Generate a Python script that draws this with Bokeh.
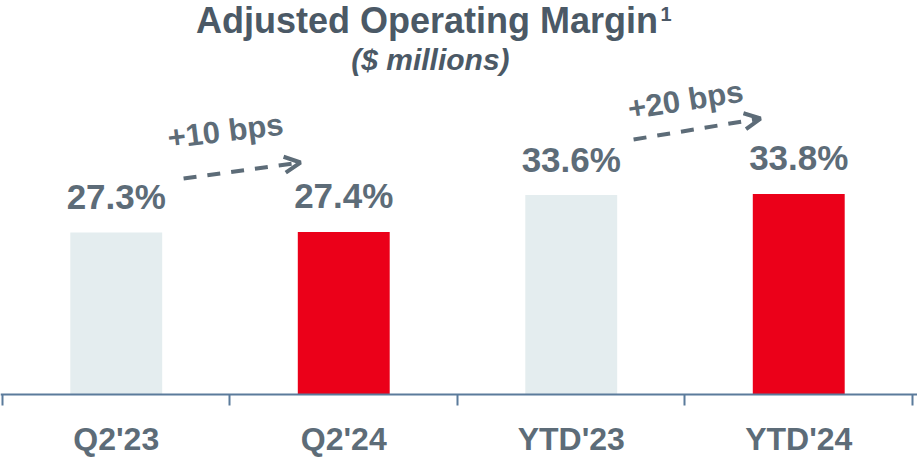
from bokeh.plotting import figure
from bokeh.models import (Range1d, LinearAxis, FixedTicker, Label, Arrow,
                          OpenHead, ColumnDataSource)
from bokeh.core.properties import value
from bokeh.embed import file_html
from bokeh.resources import INLINE

# ---- data ----
categories = ["Q2'23", "Q2'24", "YTD'23", "YTD'24"]
margins = [27.3, 27.4, 33.6, 33.8]
bar_colors = ["#e4edef", "#eb0019", "#e4edef", "#eb0019"]
change_labels = ["+10 bps", "+20 bps"]
change_pairs = [(0, 1), (2, 3)]

FONT = "Liberation Sans"
TEXT_C = "#5d6c78"
TITLE_C = "#4b5966"
AXIS_C = "#5b7b9b"
PX_PER_UNIT = 5.935


def lift(fs):
    # compensate for baseline placement of rendered text (in data units)
    return 0.37 * fs / PX_PER_UNIT


xs = [i + 0.5 for i in range(len(categories))]
src = ColumnDataSource(dict(
    x=xs, top=margins, color=bar_colors,
    label=[f"{m:.1f}%" for m in margins],
))

p = figure(width=917, height=458,
           x_range=Range1d(-0.00879, 4.02198), y_range=Range1d(-10.784, 66.386),
           output_backend="svg", toolbar_location=None,
           x_axis_location=None, y_axis_location=None,
           min_border=0, outline_line_color=None)
p.background_fill_color = "white"
p.border_fill_color = "white"
p.xgrid.visible = False
p.ygrid.visible = False

p.vbar(x="x", top="top", bottom=0, width=0.404, fill_color="color",
       line_color=None, source=src)

p.text(x="x", y="top", text="label", source=src, text_align="center",
       text_baseline="alphabetic", y_offset=-36,
       text_font=value(FONT), text_font_style="bold",
       text_font_size="35px", text_color=TEXT_C)

ax = LinearAxis(fixed_location=0,
                ticker=FixedTicker(ticks=xs, minor_ticks=list(range(len(categories) + 1))),
                major_label_overrides={x: c for x, c in zip(xs, categories)})
ax.axis_line_color = AXIS_C
ax.axis_line_width = 2
ax.major_tick_line_color = None
ax.major_tick_out = 0
ax.major_tick_in = 0
ax.minor_tick_line_color = AXIS_C
ax.minor_tick_line_width = 2
ax.minor_tick_out = 11
ax.minor_tick_in = 0
ax.major_label_standoff = 16
ax.major_label_text_font = FONT
ax.major_label_text_font_style = "bold"
ax.major_label_text_font_size = "32px"
ax.major_label_text_color = TEXT_C
p.add_layout(ax, "below")

# titles
p.add_layout(Label(x=1.866, y=60.82 + lift(36), text="Adjusted Operating Margin",
                   text_align="center", text_baseline="alphabetic",
                   text_font=FONT, text_font_style="bold",
                   text_font_size="36px", text_color=TITLE_C))
p.add_layout(Label(x=2.892, y=62.84 + lift(20), text="1", text_align="left",
                   text_baseline="alphabetic", text_font=FONT,
                   text_font_style="bold", text_font_size="20px",
                   text_color=TITLE_C))
p.add_layout(Label(x=1.881, y=54.59 + lift(30), text="($ millions)",
                   text_align="center", text_baseline="alphabetic",
                   text_font=FONT, text_font_style="bold italic",
                   text_font_size="30px", text_color=TITLE_C))

# change arrows (annotation offsets relative to bar centres / tops)
arrow_geo = [
    # (dx_start, dy_start, dx_end, dy_end, label_dx, label_dy, angle)
    (0.296, 9.09, -0.190, 11.69, 0.480, 15.16, 7.0),
    (0.274, 9.37, -0.168, 12.70, 0.502, 14.08, 9.0),
]
for (a, b), lab, g in zip(change_pairs, change_labels, arrow_geo):
    dxs, dys, dxe, dye, ldx, ldy, ang = g
    p.add_layout(Arrow(x_start=xs[a] + dxs, y_start=margins[a] + dys,
                       x_end=xs[b] + dxe, y_end=margins[b] + dye,
                       line_color=TEXT_C, line_width=4, line_dash="13 11",
                       end=OpenHead(size=16, line_width=4, line_color=TEXT_C)))
    p.add_layout(Label(x=xs[a] + ldx, y=margins[a] + ldy + lift(31), text=lab,
                       angle=ang, angle_units="deg", text_align="center",
                       text_baseline="alphabetic", text_font=FONT,
                       text_font_style="bold", text_font_size="31px",
                       text_color=TEXT_C))

open("out.html", "w").write(file_html(p, INLINE))
